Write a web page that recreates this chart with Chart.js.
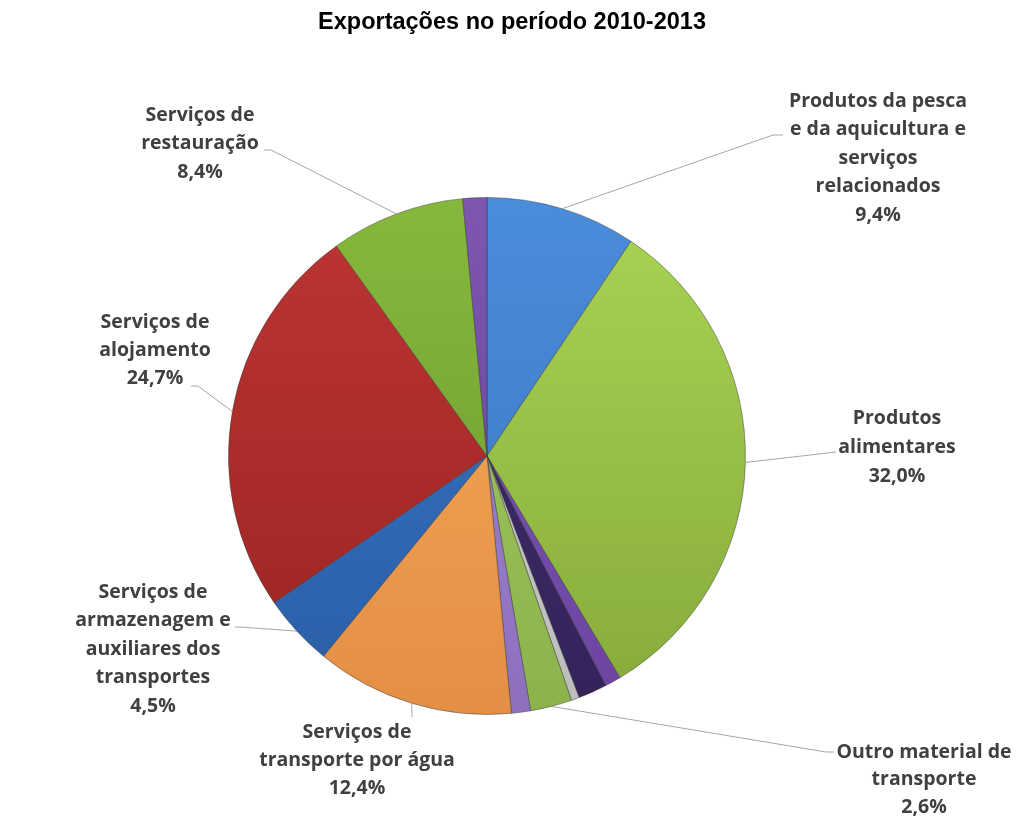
<!DOCTYPE html>
<html>
<head>
<meta charset="utf-8">
<script src="https://cdn.jsdelivr.net/npm/chart.js@4"></script>
<style>
  html, body { margin:0; padding:0; background:#fff; }
  canvas { display:block; }
</style>
</head>
<body>
<canvas id="pie" width="1024" height="819"></canvas>
<script>
// Exportações no período 2010-2013 — shares in %
const title = 'Exportações no período 2010-2013';
const categories = [
  'Produtos da pesca\ne da aquicultura e\nserviços\nrelacionados',
  'Produtos\nalimentares',
  '', '', '',
  'Outro material de\ntransporte',
  '',
  'Serviços de\ntransporte por água',
  'Serviços de\narmazenagem e\nauxiliares dos\ntransportes',
  'Serviços de\nalojamento',
  'Serviços de\nrestauração',
  ''
];
const shares = [9.4, 32.0, 1.0, 1.8, 0.5, 2.6, 1.2, 12.4, 4.5, 24.7, 8.4, 1.5];

// slice colours (top / bottom of the gradient)
const topCol = ['#4a8ddb','#a9d454','#8058b8','#43306f','#d2d2d2','#a3cd62','#a58ad4','#f9ab58','#3a76c6','#bd3533','#86b83c','#7d56b0'];
const botCol = ['#3a74bf','#86aa3a','#6c44a0','#34225a','#bcbcbc','#8db24c','#8c70bd','#e38f45','#2a5ea6','#992422','#6c9830','#65409a'];

// label text placement (centre x, first line y, line height, leader elbow points)
const labelPos = [
  {cx:878, y:101, lh:28.5, pts:[[773,135],[783,135]]},
  {cx:897, y:418, lh:29,   pts:[[836,452]]},
  null, null, null,
  {cx:924, y:752, lh:27.5, pts:[[826,752],[834,752]]},
  null,
  {cx:357, y:732, lh:28,   pts:[[412,717]]},
  {cx:153, y:592, lh:28.5, pts:[[240,627],[235,627]]},
  {cx:155, y:322, lh:28,   pts:[[198,386],[191,386]]},
  {cx:200, y:115, lh:28.5, pts:[[271,150],[264,150]]},
  null
];

function fmt(v){ return v.toFixed(1).replace('.', ',') + '%'; }

const labelPlugin = {
  id: 'pieLabels',
  afterDraw(chart){
    const ctx = chart.ctx;
    ctx.save();
    // title
    ctx.fillStyle = '#000';
    ctx.font = 'bold 23.5px "Liberation Sans", Arial, sans-serif';
    ctx.textAlign = 'center';
    ctx.textBaseline = 'middle';
    ctx.fillText(title, 512, 23);

    const meta = chart.getDatasetMeta(0);
    meta.data.forEach((arc, i)=>{
      const lp = labelPos[i];
      if(!lp || !categories[i]) return;
      const p = arc.getProps(['x','y','startAngle','endAngle','outerRadius'], true);
      const mid = (p.startAngle + p.endAngle) / 2;
      const ex = p.x + Math.cos(mid) * p.outerRadius;
      const ey = p.y + Math.sin(mid) * p.outerRadius;
      ctx.strokeStyle = '#a6a6a6';
      ctx.lineWidth = 1;
      ctx.beginPath();
      ctx.moveTo(ex, ey);
      lp.pts.forEach(pt=>ctx.lineTo(pt[0], pt[1]));
      ctx.stroke();

      const lines = categories[i].split('\n').concat([fmt(shares[i])]);
      ctx.fillStyle = '#404040';
      ctx.font = 'bold 19.5px "Open Sans", Lato, sans-serif';
      ctx.textAlign = 'center';
      ctx.textBaseline = 'middle';
      lines.forEach((t, k)=>ctx.fillText(t, lp.cx, lp.y + k*lp.lh));
    });
    ctx.restore();
  }
};

new Chart(document.getElementById('pie'), {
  type: 'pie',
  data: {
    labels: categories,
    datasets: [{
      data: shares,
      backgroundColor: (c)=>{
        const i = c.dataIndex;
        const a = c.chart.chartArea;
        if(!a) return topCol[i];
        const g = c.chart.ctx.createLinearGradient(0, a.top, 0, a.bottom);
        g.addColorStop(0, topCol[i]);
        g.addColorStop(1, botCol[i]);
        return g;
      },
      borderColor: 'rgba(50,50,50,0.45)',
      borderWidth: 1
    }]
  },
  options: {
    responsive: false,
    animation: false,
    layout: { padding: { left:228, right:278, top:197, bottom:104 } },
    plugins: { legend:{display:false}, tooltip:{enabled:false}, title:{display:false} }
  },
  plugins: [labelPlugin]
});
</script>
</body>
</html>
